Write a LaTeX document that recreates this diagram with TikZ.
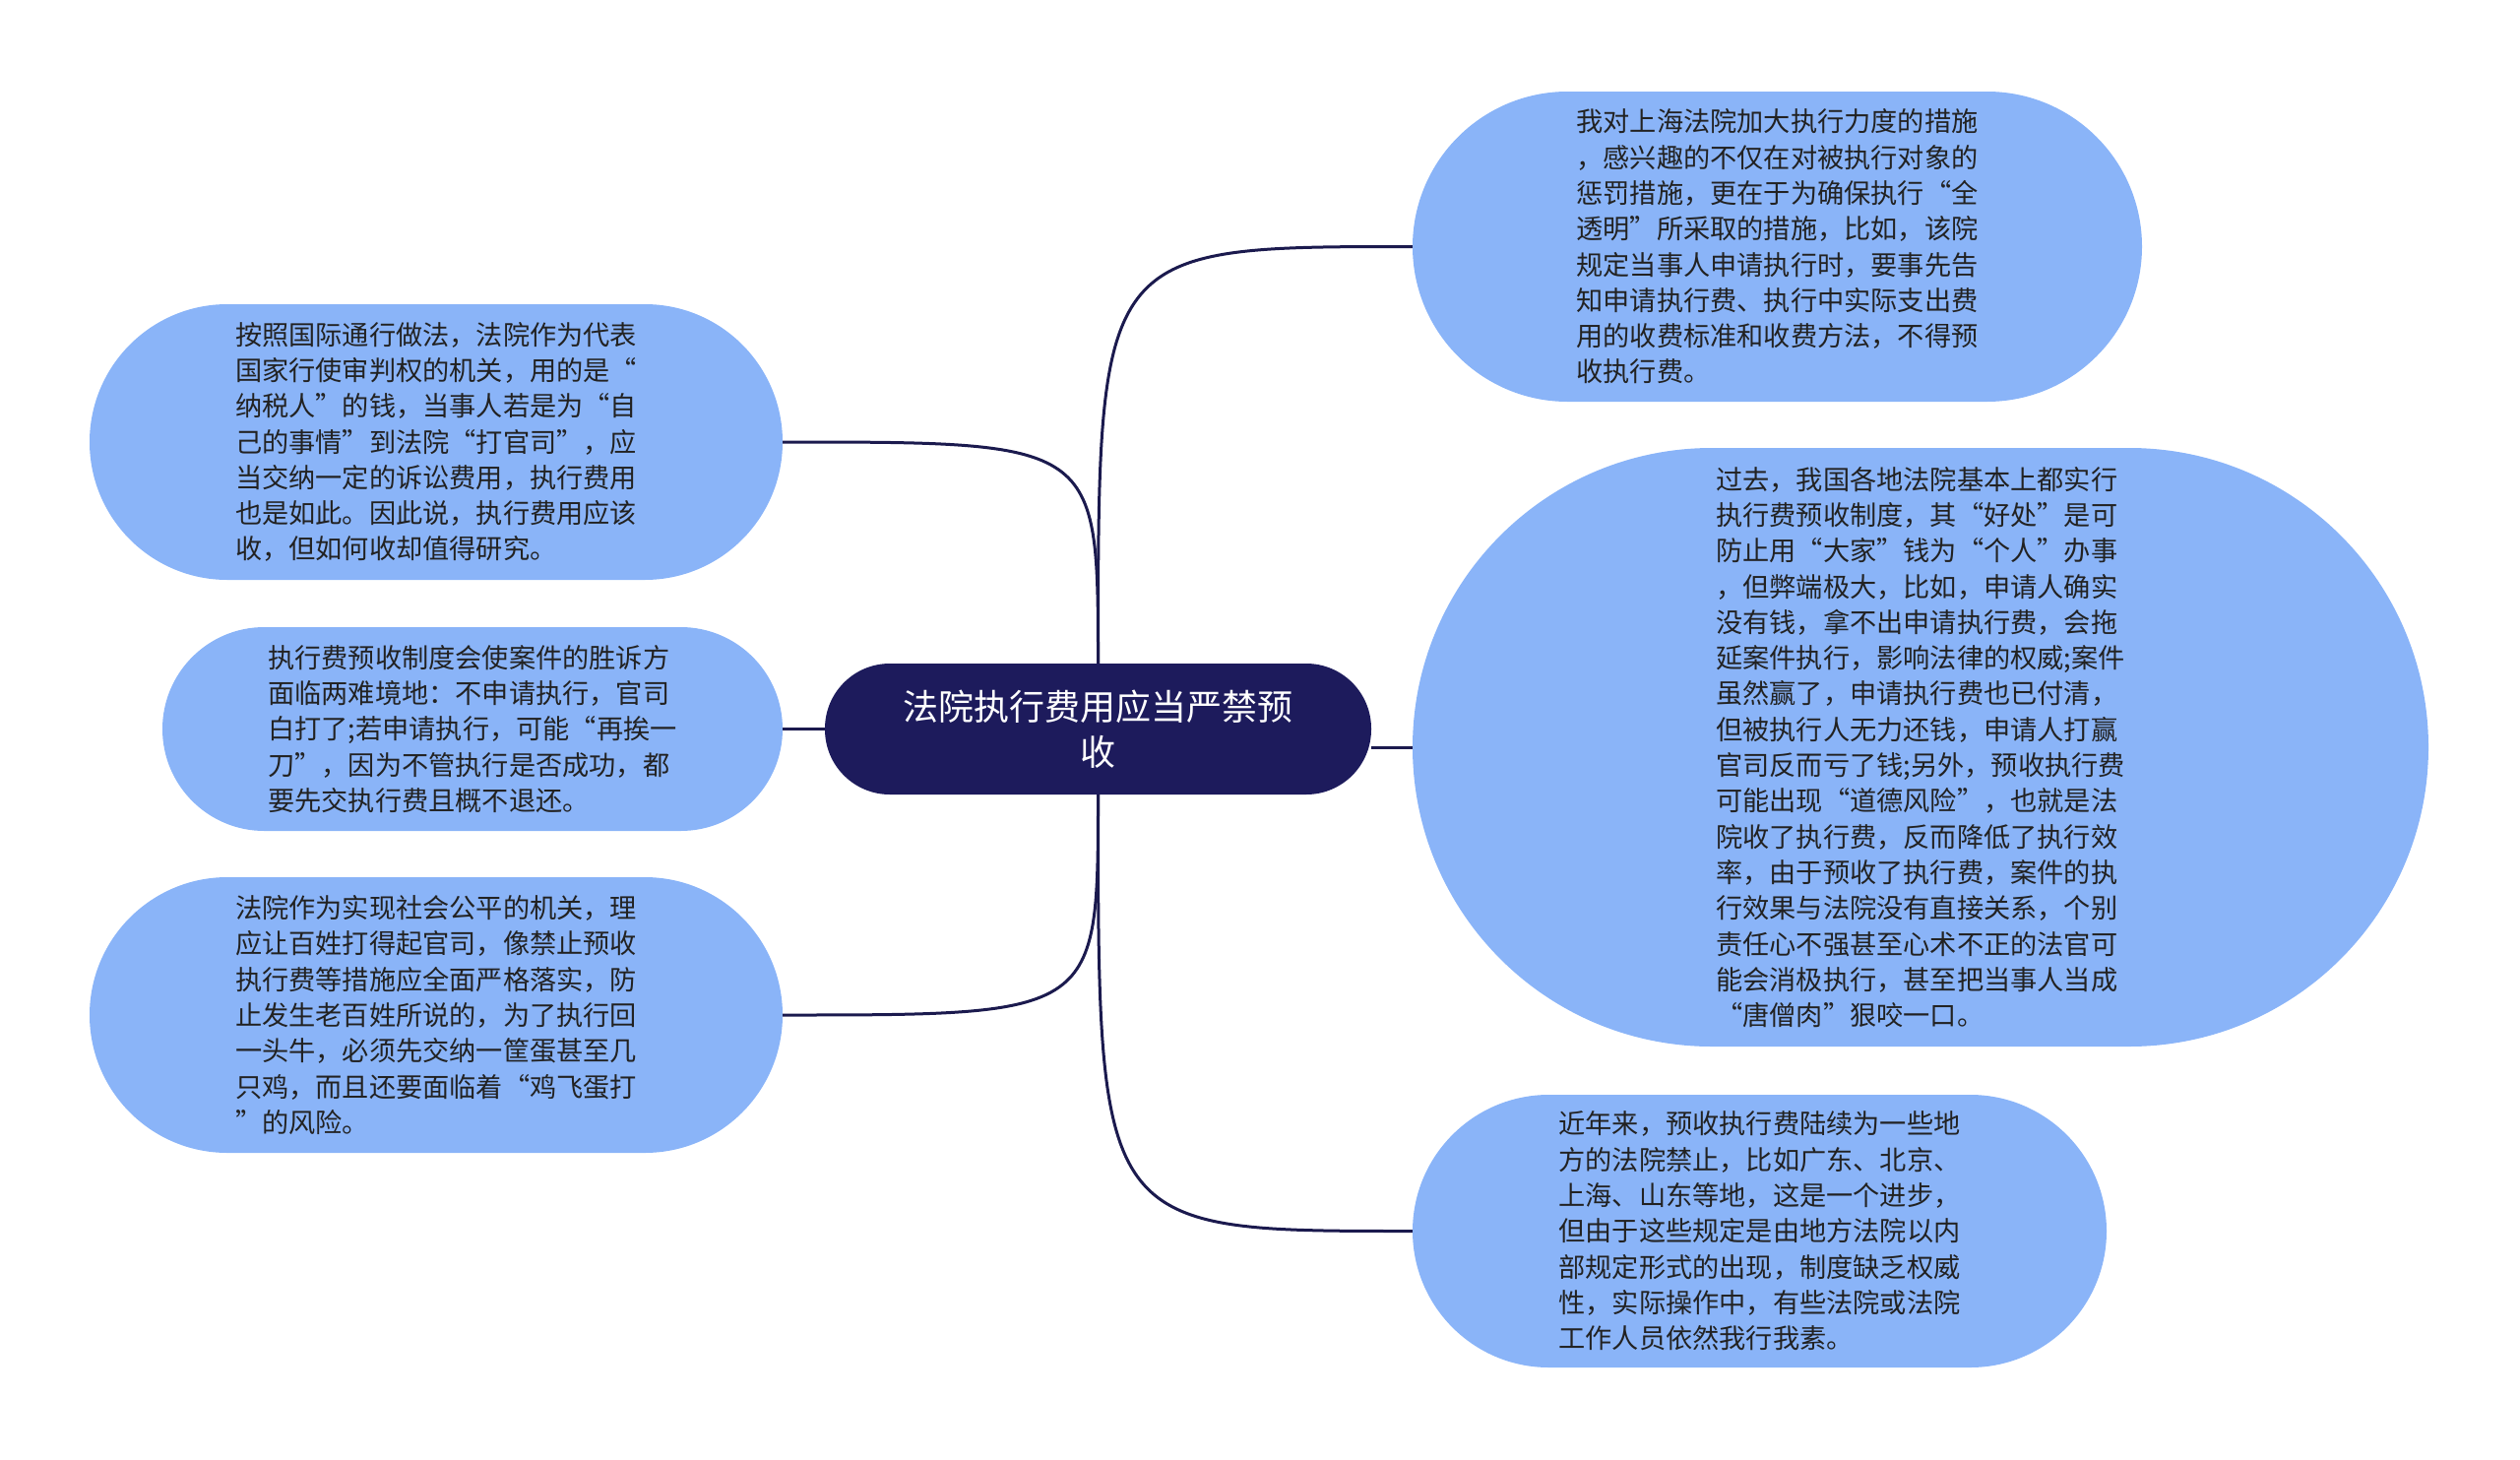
\documentclass[tikz,border=0pt]{standalone}
\usepackage{fontspec}
\setmainfont{Noto Sans CJK SC}
\definecolor{hubfill}{HTML}{1D1B5C}
\definecolor{leaffill}{HTML}{8AB4F8}
\definecolor{linkcol}{HTML}{1B1A4E}
\definecolor{leaftext}{HTML}{222222}
\begin{document}
\begin{tikzpicture}[x=1pt, y=-1pt,
                    hub/.style={rectangle, rounded corners=66pt, fill=hubfill, text=white,
                      minimum width=555pt, minimum height=133pt, inner sep=0pt, align=center,
                      font=\fontsize{36}{46}\selectfont},
                    leaf/.style 2 args={rectangle, fill=leaffill, text=leaftext, inner sep=0pt,
                      minimum width=#1, minimum height=#2, rounded corners=#2/2, align=left,
                      font=\fontsize{27.2}{36.3}\selectfont},
                    link/.style={draw=linkcol, line width=3pt}]
  \useasboundingbox (0,0) rectangle (2560,1483);
  \node[hub] (c) at (1115.5,740.5) {法院执行费用应当严禁预\\收};
  % right side
  \node[leaf={741pt}{315pt}] (r1) at (1805.5,250.5) {我对上海法院加大执行力度的措施\\，感兴趣的不仅在对被执行对象的\\惩罚措施，更在于为确保执行“全\\透明”所采取的措施，比如，该院\\规定当事人申请执行时，要事先告\\知申请执行费、执行中实际支出费\\用的收费标准和收费方法，不得预\\收执行费。};
  \node[leaf={1032pt}{608pt}] (r2) at (1951,759) {过去，我国各地法院基本上都实行\\执行费预收制度，其“好处”是可\\防止用“大家”钱为“个人”办事\\，但弊端极大，比如，申请人确实\\没有钱，拿不出申请执行费，会拖\\延案件执行，影响法律的权威;案件\\虽然赢了，申请执行费也已付清，\\但被执行人无力还钱，申请人打赢\\官司反而亏了钱;另外，预收执行费\\可能出现“道德风险”，也就是法\\院收了执行费，反而降低了执行效\\率，由于预收了执行费，案件的执\\行效果与法院没有直接关系，个别\\责任心不强甚至心术不正的法官可\\能会消极执行，甚至把当事人当成\\“唐僧肉”狠咬一口。};
  \node[leaf={705pt}{277pt}] (r3) at (1787.5,1250.5) {近年来，预收执行费陆续为一些地\\方的法院禁止，比如广东、北京、\\上海、山东等地，这是一个进步，\\但由于这些规定是由地方法院以内\\部规定形式的出现，制度缺乏权威\\性，实际操作中，有些法院或法院\\工作人员依然我行我素。};
  % left side
  \node[leaf={704pt}{280pt}] (l1) at (443,449) {按照国际通行做法，法院作为代表\\国家行使审判权的机关，用的是“\\纳税人”的钱，当事人若是为“自\\己的事情”到法院“打官司”，应\\当交纳一定的诉讼费用，执行费用\\也是如此。因此说，执行费用应该\\收，但如何收却值得研究。};
  \node[leaf={630pt}{207pt}] (l2) at (480,740.5) {执行费预收制度会使案件的胜诉方\\面临两难境地：不申请执行，官司\\白打了;若申请执行，可能“再挨一\\刀”，因为不管执行是否成功，都\\要先交执行费且概不退还。};
  \node[leaf={704pt}{280pt}] (l3) at (443,1031) {法院作为实现社会公平的机关，理\\应让百姓打得起官司，像禁止预收\\执行费等措施应全面严格落实，防\\止发生老百姓所说的，为了执行回\\一头牛，必须先交纳一筐蛋甚至几\\只鸡，而且还要面临着“鸡飞蛋打\\”的风险。};
  % links
  \draw[link] (c.north) .. controls (c.north |- r1.west) .. (r1.west);
  \draw[link] (c.east |- r2.west) -- (r2.west);
  \draw[link] (c.south) .. controls (c.south |- r3.west) .. (r3.west);
  \draw[link] (c.north) .. controls (c.north |- l1.east) .. (l1.east);
  \draw[link] (c.west) -- (l2.east);
  \draw[link] (c.south) .. controls (c.south |- l3.east) .. (l3.east);
\end{tikzpicture}
\end{document}
